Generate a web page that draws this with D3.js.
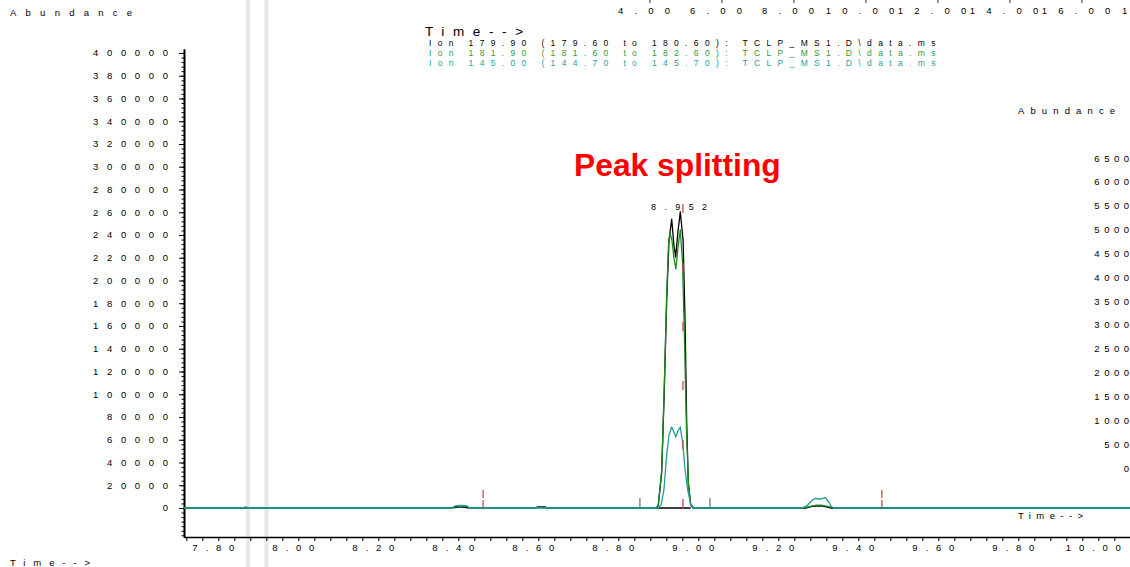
<!DOCTYPE html>
<html>
<head>
<meta charset="utf-8">
<script src="https://cdn.jsdelivr.net/npm/d3@7"></script>
<style>
  html, body { margin: 0; padding: 0; background: #fff; }
  svg { display: block; font-family: "Liberation Sans", Arial, sans-serif; }
</style>
</head>
<body>
<svg id="chart" width="1130" height="567"></svg>
<script>
// Extracted ion chromatograms: time (min) and abundance pairs
const ion179 = [
  [7.714, 0], [8.380, 0], [8.405, 900], [8.430, 0], [8.590, 0], [8.600, 900], [8.615, 1000], [8.625, 0],
  [8.896, 0], [8.900, 2600], [8.9085, 30800], [8.915, 103700], [8.921, 182800], [8.9268, 235600],
  [8.9335, 254000], [8.939, 231200], [8.9435, 220600], [8.949, 242600], [8.955, 260200],
  [8.962, 235600], [8.967, 162600], [8.971, 74700], [8.975, 22000], [8.981, 2600], [8.987, 0],
  [9.270, 0], [9.285, 1500], [9.298, 1900], [9.312, 1700], [9.330, 0], [10.080, 0]
];
const ion181 = [
  [7.714, 0], [7.862, 0], [7.869, 1000], [7.876, 0],
  [8.383, 0], [8.395, 1500], [8.407, 1800], [8.420, 1500], [8.429, 0],
  [8.590, 0], [8.607, 600], [8.620, 0],
  [8.894, 0], [8.900, 2600], [8.9085, 33400], [8.915, 108100], [8.921, 187200], [8.9255, 231200],
  [8.929, 241700], [8.934, 235600], [8.939, 219800], [8.944, 210100], [8.949, 228500],
  [8.955, 244400], [8.9605, 216300], [8.9655, 147700], [8.9705, 68600], [8.9755, 20200],
  [8.981, 2600], [8.987, 0],
  [9.262, 0], [9.280, 1500], [9.296, 2600], [9.310, 2400], [9.330, 1000], [9.340, 0], [10.080, 0]
];
const ion145 = [
  [7.714, 0], [8.383, 0], [8.392, 1800], [8.405, 2300], [8.420, 2000], [8.429, 0],
  [8.899, 0], [8.9068, 2600], [8.914, 15800], [8.921, 46600], [8.9268, 64200], [8.9335, 71200],
  [8.939, 66800], [8.944, 62400], [8.949, 67700], [8.955, 71200], [8.961, 57100], [8.967, 33400],
  [8.9735, 15800], [8.981, 3500], [8.989, 0],
  [9.2585, 0], [9.271, 1800], [9.2835, 6400], [9.292, 8500], [9.300, 7900], [9.3085, 7900],
  [9.317, 9400], [9.3255, 5500], [9.3335, 1100], [9.339, 0], [10.080, 0]
];

// Integration events: start/end ticks and red event markers (time, top abundance)
const peakBaseline = [[8.896, 0], [8.981, 0]];
const eventTimes = [8.462, 8.9617, 9.459];
const eventTops = [15800, 270000, 15800];
const boundTimes = [8.854, 9.029];
const boundTops = [8800, 8800];
const peakRT = "8.952";

// Axis labels
const yTickValues = d3.range(0, 400001, 20000);
const xTickValues = d3.range(0, 60).map(i => +(7.72 + i * 0.04).toFixed(2));
const xLabelTimes = [7.8, 8.0, 8.2, 8.4, 8.6, 8.8, 9.0, 9.2, 9.4, 9.6, 9.8, 10.0];
const rightLabels = [0, 500, 1000, 1500, 2000, 2500, 3000, 3500, 4000, 4500, 5000, 5500, 6000, 6500];
const topLabels = ["4.00", "6.00", "8.00", "10.00", "12.00", "14.00", "16.00", "1"];
const topTimes = [4, 6, 8, 10, 12, 14, 16, 18];
const ionLegend = [
  "Ion 179.90 (179.60 to 180.60): TCLP_MS1.D\\data.ms",
  "Ion 181.90 (181.60 to 182.60): TCLP_MS1.D\\data.ms",
  "Ion 145.00 (144.70 to 145.70): TCLP_MS1.D\\data.ms"
];
const traceColors = ["#000000", "#1b8a1b", "#1e9b9b"];
const legendColors = ["#000000", "#2f9a2f", "#22a0a6"];

const svg = d3.select("#chart");
const FONT = 9.5;

// Text with wide character spacing (per-glyph dx, no trailing gap);
// placed by its left/right edges or by its centre
function spaced(g, str, o) {
  const t = g.append("text").text(str)
    .attr("y", o.y).attr("fill", o.fill || "#000")
    .style("font-size", (o.size || FONT) + "px");
  if (o.weight) t.style("font-weight", o.weight);
  const w = t.node().getComputedTextLength();
  const n = str.length;
  let ls = o.ls;
  if (ls == null) ls = n > 1 ? ((o.right - o.left) - w) / (n - 1) : 0;
  const vis = w + (n - 1) * ls;
  let left;
  if (o.left != null) left = o.left;
  else if (o.right != null) left = o.right - vis;
  else left = o.center - vis / 2;
  const dx = [0].concat(d3.range(n - 1).map(() => ls.toFixed(3))).join(" ");
  t.attr("x", left).attr("dx", dx);
  return t;
}

// Scales
const x = d3.scaleLinear().domain([9.0 - (698.3 - 184) / 400, 9.0 + (1130 - 698.3) / 400]).range([184, 1130]);
const y = d3.scaleLinear().domain([-25500, 403500]).range([537, 49]);
const yRight = d3.scaleLinear().domain([0, 6500]).range([468, 158]);
const xTop = d3.scaleLinear().domain([4, 16]).range([650, 1082]);

// Faint vertical page bands
[248, 266.5].forEach(px => {
  svg.append("line").attr("x1", px).attr("x2", px).attr("y1", 0).attr("y2", 567)
    .attr("stroke", "#efefef").attr("stroke-width", 5);
  svg.append("line").attr("x1", px).attr("x2", px).attr("y1", 0).attr("y2", 567)
    .attr("stroke", "#e2e2e2").attr("stroke-width", 1.5);
});

// Top (overview) time axis, running off the page edge
const topG = svg.append("g");
topTimes.forEach((v, i) => {
  topG.append("line").attr("x1", xTop(v)).attr("x2", xTop(v)).attr("y1", 0).attr("y2", 3)
    .attr("stroke", "#333").attr("stroke-width", 1);
  if (i < topTimes.length - 1) spaced(topG, topLabels[i], { center: xTop(v) - 6, ls: 11.2, y: 14 });
  else spaced(topG, topLabels[i], { left: 1122, ls: 0, y: 14 });
});

// Header texts
spaced(svg, "Abundance", { left: 10, right: 132, y: 16 });
spaced(svg, "Time-->", { left: 425, right: 523, y: 36, size: 13.5 });
ionLegend.forEach((s, i) => {
  spaced(svg, s, { left: 429, right: 935, y: 45.5 + i * 10, size: 8.5, fill: legendColors[i] });
});
spaced(svg, "Abundance", { left: 1018, right: 1115, y: 113.5 });
rightLabels.forEach(v => spaced(svg, String(v), { right: 1129, ls: 4.5, y: yRight(v) + 3.5 }));
spaced(svg, "Time-->", { left: 1018, right: 1083, y: 518.5 });
spaced(svg, "Time-->", { left: 10, right: 90, y: 565.5 });

// Y axis
const yMinor = d3.range(-24000, 403501, 4000);
const yAxisG = svg.append("g").attr("transform", "translate(184,0)");
yAxisG.call(d3.axisLeft(y).tickValues(yMinor).tickSize(2.5).tickSizeOuter(0).tickFormat(""));
yAxisG.call(g => g.append("g").call(d3.axisLeft(y).tickValues(yTickValues).tickSize(5).tickSizeOuter(0).tickFormat("")));
yAxisG.selectAll("path.domain").attr("stroke", "#000").attr("stroke-width", 1.6);
yAxisG.selectAll(".tick line").attr("stroke", "#000").attr("stroke-width", 1);
yTickValues.forEach(v => spaced(svg, String(v), { right: 168, ls: 8.66, y: y(v) + 3.5 }));

// X axis
const xAxisG = svg.append("g").attr("transform", "translate(0,537)");
xAxisG.call(d3.axisBottom(x).tickValues(xTickValues).tickSize(4).tickSizeOuter(0).tickFormat(""));
xAxisG.selectAll("path.domain").attr("stroke", "#000").attr("stroke-width", 1.4);
xAxisG.selectAll(".tick line").attr("stroke", "#000").attr("stroke-width", 1);
xLabelTimes.forEach(t => spaced(svg, t.toFixed(2), { center: x(t) - 5, ls: 7.8, y: 551 }));

// Peak annotation
svg.append("text").text("Peak splitting")
  .attr("x", 574).attr("y", 176)
  .attr("fill", "#ff0000").style("font-size", "31.8px").style("font-weight", "bold");

// Integration start/end ticks
boundTimes.forEach((t, i) => {
  svg.append("line").attr("x1", x(t)).attr("x2", x(t)).attr("y1", y(0)).attr("y2", y(boundTops[i]))
    .attr("stroke", "#8a8a8a").attr("stroke-width", 1.5);
});

// Traces
const line = d3.line().x(d => x(d[0])).y(d => y(d[1]));
const traceG = svg.append("g").attr("fill", "none").attr("stroke-linejoin", "round");
traceG.append("path").datum(ion179).attr("d", line).attr("stroke", traceColors[0]).attr("stroke-width", 1.3);
traceG.append("path").datum(ion181).attr("d", line).attr("stroke", traceColors[1]).attr("stroke-width", 1.3);
traceG.append("path").datum(peakBaseline).attr("d", line).attr("stroke", "#000").attr("stroke-width", 1.3);
traceG.append("path").datum(ion145).attr("d", line).attr("stroke", traceColors[2]).attr("stroke-width", 1.3);

// Red event markers
eventTimes.forEach((t, i) => {
  const tall = eventTops[i] > 100000;
  svg.append("line").attr("x1", x(t)).attr("x2", x(t)).attr("y1", y(0)).attr("y2", y(eventTops[i]))
    .attr("stroke", "#c8484f").attr("stroke-width", 1.3)
    .attr("stroke-dasharray", tall ? "9,50" : "8,2");
});

// Retention time label
spaced(svg, peakRT, { left: 651, right: 707, y: 209.5, size: 9 });
</script>
</body>
</html>
